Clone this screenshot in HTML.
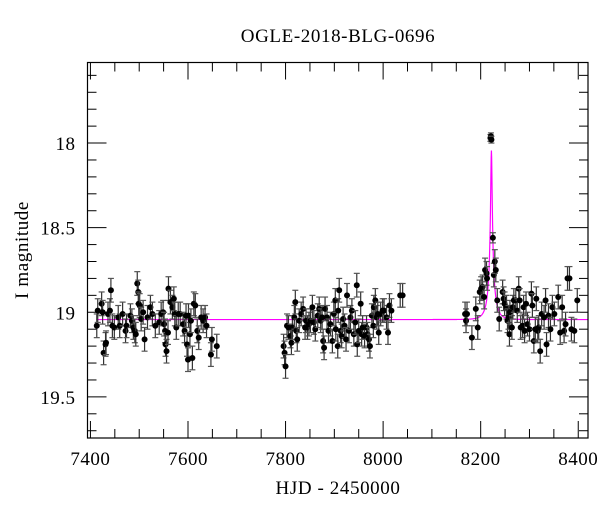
<!DOCTYPE html>
<html><head><meta charset="utf-8">
<style>
body{margin:0;background:#fff;}
svg{display:block;font-family:"Liberation Serif","DejaVu Serif",serif;}
</style></head>
<body>
<svg id="chart" width="600" height="512" viewBox="0 0 600 512">
<text x="338" y="42" text-anchor="middle" font-size="19" letter-spacing="0.6">OGLE-2018-BLG-0696</text>
<text x="338" y="494" text-anchor="middle" font-size="19" letter-spacing="0.6">HJD - 2450000</text>
<text x="0" y="0" transform="translate(28,250) rotate(-90)" text-anchor="middle" font-size="19" letter-spacing="0.6">I magnitude</text>
<g id="ticks"></g>
<g id="model"></g>
<g id="pts"></g>
<rect x="87.5" y="62.5" width="500.5" height="375.5" fill="none" stroke="#000" stroke-width="1.2"/>
</svg>
<script>
const hjd = [7413,7415,7423,7425,7427,7431,7432,7436,7440,7442,7445,7449,7457,7460,7466,7472,7474,7482,7485,7488,7491,7493,7496,7498,7499,7501,7504,7508,7511,7517,7523,7527,7533,7541,7545,7549,7551,7553,7554,7556,7559,7560,7564,7568,7571,7573,7576,7580,7584,7590,7593,7596,7598,7600,7601,7604,7606,7609,7612,7615,7619,7622,7627,7631,7635,7638,7647,7649,7659,
7796,7798,7800,7803,7806,7810,7812,7814,7818,7820,7822,7824,7828,7832,7836,7840,7842,7845,7848,7851,7855,7858,7861,7866,7869,7872,7875,7877,7879,7881,7885,7888,7892,7896,7899,7902,7903,7907,7908,7910,7913,7915,7918,7921,7924,7926,7930,7933,7936,7940,7943,7946,7947,7950,7954,7956,7958,7962,7966,7968,7971,7973,7977,7980,7981,7984,7987,7989,7991,7995,7999,8002,8007,8010,8013,8017,8035,8040,
8168,8170,8172,8182,8190,8194,8198,8201,8204,8207,8209,8212,8213,8220,8221,8222,8225,8227,8229,8231,8234,8238,8245,8247,8249,8253,8255,8257,8259,8260,8264,8266,8268,8272,8275,8278,8280,8282,8286,8288,8290,8293,8296,8300,8304,8306,8309,8312,8314,8317,8319,8322,8325,8330,8333,8335,8339,8343,8347,8351,8359,8363,8367,8371,8374,8378,8382,8386,8392,8398];
const imag = [19.08,18.99,18.95,19.00,19.24,19.19,19.18,19.01,18.99,18.87,19.08,19.09,19.03,19.08,19.01,19.11,19.08,19.02,19.05,19.09,19.11,19.13,18.83,18.88,18.95,18.96,19.04,19.00,19.16,19.03,18.97,19.01,19.08,19.06,19.01,19.00,19.07,19.11,19.19,19.23,19.12,18.86,18.94,18.97,18.92,19.01,19.09,19.01,19.01,19.07,19.11,19.02,19.19,19.28,19.02,19.13,19.05,19.27,18.95,18.96,19.11,19.15,19.03,19.05,19.03,19.08,19.25,19.16,19.20,
19.20,19.24,19.32,19.08,19.09,19.14,19.18,19.09,19.03,18.94,19.11,19.16,19.05,19.01,18.98,19.09,19.05,19.09,19.07,19.05,18.97,19.06,19.10,19.02,18.98,19.05,19.03,19.17,19.21,18.98,19.03,19.11,19.07,19.17,19.01,18.93,19.10,19.20,18.99,18.87,19.11,19.14,19.04,19.08,19.16,18.90,19.11,19.03,18.99,19.13,19.06,18.84,19.19,19.11,18.95,19.13,19.09,19.14,19.09,19.13,19.16,19.20,19.02,19.08,18.97,18.93,19.03,19.01,19.12,19.01,18.99,18.99,19.03,19.12,18.96,18.99,18.90,18.90,
19.01,19.05,19.01,19.15,18.98,19.09,18.88,18.86,18.85,18.91,18.75,18.77,18.80,17.97,17.96,17.98,18.56,18.78,18.70,18.75,18.93,19.04,18.88,18.92,18.95,18.97,19.05,19.03,19.13,19.00,19.09,18.97,18.93,18.93,18.99,18.86,18.93,19.09,19.08,18.97,19.11,18.95,19.07,19.10,18.89,18.96,19.17,19.10,18.92,19.11,19.09,19.23,19.01,19.03,18.93,19.19,19.02,19.10,18.97,19.01,18.91,19.12,18.97,19.11,19.07,18.80,18.80,19.10,19.11,18.93];
const xTicks = [7400,7600,7800,8000,8200,8400];
const yTicks = [18,18.5,19,19.5];
const modelParams = {t0:8222, u0:0.1, tE:14, fs:0.167, base:19.043};

const NS="http://www.w3.org/2000/svg";
const X0=87.5,X1=588,Y0=62.5,Y1=438;
const tMin=7394,tMax=8420,mMin=17.524,mMax=19.743;
const xs=t=>X0+(t-tMin)/(tMax-tMin)*(X1-X0);
const ys=m=>Y0+(m-mMin)/(mMax-mMin)*(Y1-Y0);
function mk(tag,attrs,parent){const e=document.createElementNS(NS,tag);for(const k in attrs)e.setAttribute(k,attrs[k]);parent.appendChild(e);return e;}

const tg=document.getElementById('ticks');
for(let t=7400;t<=8400;t+=50){
  const big=xTicks.includes(t);const L=big?17:9;const x=xs(t);
  const a=mk('line',{x1:x,x2:x,y1:Y1,y2:Y1-L,stroke:'#000','stroke-width':1},tg);
  
  
  const b=mk('line',{x1:x,x2:x,y1:Y0,y2:Y0+L,stroke:'#000','stroke-width':1},tg);
  
  
}
xTicks.forEach(t=>{
  const e=mk('text',{x:xs(t),y:Y1+27,'text-anchor':'middle','font-size':19,'letter-spacing':0.5},tg);e.textContent=t;
  
  
});
for(let i=6;i<=27;i++){
  const m=17+i*0.1;const big=yTicks.some(v=>Math.abs(v-m)<1e-6);const L=big?19:9;const y=ys(m);
  const a=mk('line',{x1:X0,x2:X0+L,y1:y,y2:y,stroke:'#000','stroke-width':1},tg);
  
  
  const b=mk('line',{x1:X1,x2:X1-L,y1:y,y2:y,stroke:'#000','stroke-width':1},tg);
  
  
}
yTicks.forEach(m=>{
  const e=mk('text',{x:X0-12,y:ys(m)+7,'text-anchor':'end','font-size':19,'letter-spacing':0.5},tg);e.textContent=m;
  
  
});

const mg=document.getElementById('model');
let d='';
for(let t=7412;t<=8420;t+=0.5){
  const u=Math.sqrt(modelParams.u0**2+((t-modelParams.t0)/modelParams.tE)**2);
  const A=(u*u+2)/(u*Math.sqrt(u*u+4));
  const m=modelParams.base-2.5*Math.log10(1+modelParams.fs*(A-1));
  d+=(d?'L':'M')+xs(t).toFixed(2)+','+ys(m).toFixed(2);
}
const path=mk('path',{d:d,fill:'none',stroke:'#ff00ff','stroke-width':1.2},mg);



const pg=document.getElementById('pts');
hjd.forEach((t,i)=>{
  const m=imag[i];const err=m<18.2?0.02:(m<18.7?0.03:0.07);
  const x=xs(t),y=ys(m),ya=ys(m-err),yb=ys(m+err);
  const g=mk('g',{},pg);
  
  
  mk('line',{x1:x,x2:x,y1:ya,y2:yb,stroke:'#333','stroke-width':1.2},g);
  mk('line',{x1:x-3,x2:x+3,y1:ya,y2:ya,stroke:'#555','stroke-width':1.2},g);
  mk('line',{x1:x-3,x2:x+3,y1:yb,y2:yb,stroke:'#555','stroke-width':1.2},g);
  mk('circle',{cx:x,cy:y,r:3,fill:'#000'},g);
});
</script>
</body></html>
